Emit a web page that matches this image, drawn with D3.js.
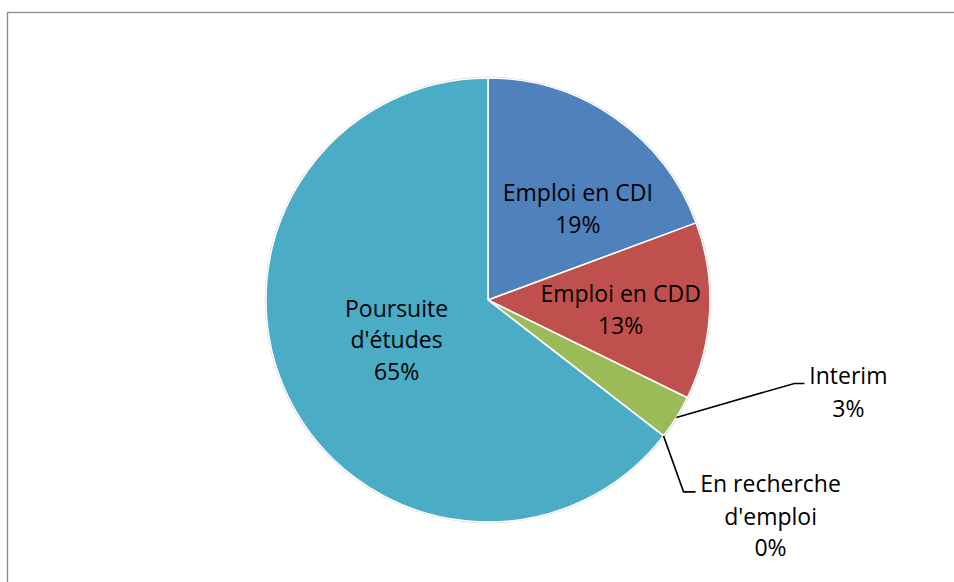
<!DOCTYPE html>
<html>
<head>
<meta charset="utf-8">
<script src="https://cdn.jsdelivr.net/npm/d3@7"></script>
<style>
  body { margin: 0; background: #fff; }
  svg { display: block; }
  text { font-family: "Open Sans", sans-serif; }
</style>
</head>
<body>
<div id="chart"></div>
<script>
// Data (counts)
const categories = ["Emploi en CDI", "Emploi en CDD", "Interim", "En recherche d'emploi", "Poursuite d'études"];
const values = [6, 4, 1, 0, 20];
const percentLabels = ["19%", "13%", "3%", "0%", "65%"];
const colors = ["#4f81bd", "#c0504d", "#9bbb59", "#8064a2", "#4bacc6"];

// label lines (how the category text wraps)
const labelLines = [
    ["Emploi en CDI"],
    ["Emploi en CDD"],
    ["Interim"],
    ["En recherche", "d'emploi"],
    ["Poursuite", "d'études"]
];

const width = 954;
const height = 582;
const cx = 488, cy = 300, radius = 222;
const lineH = 31.5;

const svg = d3.select("#chart")
    .append("svg")
    .attr("width", width)
    .attr("height", height);

// chart area border
svg.append("rect")
    .attr("x", 7.5)
    .attr("y", 12.5)
    .attr("width", width + 20)
    .attr("height", height + 20)
    .attr("fill", "#fff")
    .attr("stroke", "#8a8a8a")
    .attr("stroke-width", 1.3);

const pie = d3.pie().sort(null).value(d => d)(values);
const arc = d3.arc().innerRadius(0).outerRadius(radius);

const g = svg.append("g").attr("transform", `translate(${cx},${cy})`);

// faint outline around the pie
g.append("circle")
    .attr("r", radius + 0.5)
    .attr("fill", "none")
    .attr("stroke", "#d0d0d0")
    .attr("stroke-width", 1.5);

g.selectAll(".slice")
    .data(pie)
    .enter()
    .append("path")
    .attr("class", "slice")
    .attr("d", arc)
    .attr("fill", (d, i) => colors[i])
    .attr("stroke", "#fff")
    .attr("stroke-width", 1.5)
    .attr("stroke-linejoin", "round");

function polar(angle, r) {
    return [r * Math.sin(angle), -r * Math.cos(angle)];
}

// inside labels: radius along mid angle plus a small nudge
const inside = {
    0: { r: 128, shift: 0.17 },
    1: { r: 133, shift: 0.025 },
    4: { r: 100, shift: 0.04 }
};

pie.forEach((d, i) => {
    const lines = labelLines[i].concat([percentLabels[i]]);
    const mid = (d.startAngle + d.endAngle) / 2;
    if (inside[i]) {
        const p = polar(mid + inside[i].shift, inside[i].r);
        const t = g.append("text")
            .attr("text-anchor", "middle")
            .attr("font-size", 23)
            .attr("fill", "#000");
        const y0 = p[1] - (lines.length - 1) * lineH / 2 + 8;
        lines.forEach((s, k) => {
            t.append("tspan").attr("x", p[0]).attr("y", y0 + k * lineH).text(s);
        });
    } else {
        // leader line from the edge of the slice
        const p0 = polar(mid, radius);
        let elbow, stub, tx, ty;
        if (i === 2) {
            elbow = [p0[0] + 118, p0[1] - 34];
            stub = [elbow[0] + 10, elbow[1]];
            tx = stub[0] + 44; ty = elbow[1] + 1;
        } else {
            elbow = [p0[0] + 20, p0[1] + 56];
            stub = [elbow[0] + 12, elbow[1]];
            tx = stub[0] + 75; ty = elbow[1] + 0.5;
        }
        g.append("polyline")
            .attr("points", [p0, elbow, stub].map(q => q.join(",")).join(" "))
            .attr("fill", "none")
            .attr("stroke", "#000")
            .attr("stroke-width", 1.6);
        const t = g.append("text")
            .attr("text-anchor", "middle")
            .attr("font-size", 23)
            .attr("fill", "#000");
        lines.forEach((s, k) => {
            t.append("tspan").attr("x", tx).attr("y", ty + k * lineH + (k > 0 ? 1 : 0)).text(s);
        });
    }
});
</script>
</body>
</html>
